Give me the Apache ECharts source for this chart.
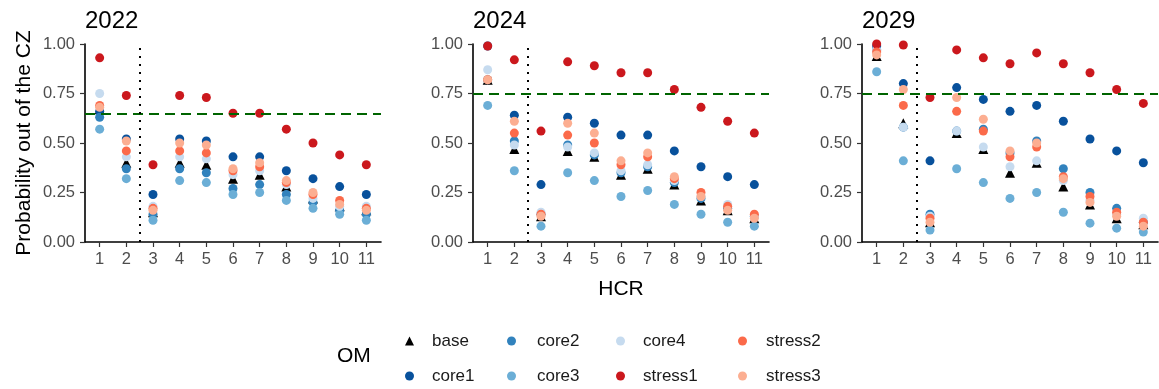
<!DOCTYPE html>
<html>
<head>
<meta charset="utf-8">
<script src="https://cdn.jsdelivr.net/npm/echarts@6/dist/echarts.min.js"></script>
<style>
  html, body { margin: 0; padding: 0; background: #fff; }
  #main { width: 1159px; height: 389px; }
</style>
</head>
<body>
<div id="main"></div>
<script>
// data
var hcr = [1, 2, 3, 4, 5, 6, 7, 8, 9, 10, 11];
var years = ["2022", "2024", "2029"];
var omNames = ["base", "core1", "core2", "core3", "core4", "stress1", "stress2", "stress3"];
var omColors = ["#000000", "#08519c", "#3182bd", "#6baed6", "#c6dbef", "#cb181d", "#fb6a4a", "#fcae91"];
var thresholds = [0.65, 0.75, 0.75];

var p2022 = {
  base:    [0.67, 0.40, 0.15, 0.40, 0.39, 0.32, 0.34, 0.28, 0.22, 0.18, 0.16],
  core1:   [0.66, 0.52, 0.24, 0.52, 0.51, 0.43, 0.43, 0.36, 0.32, 0.28, 0.24],
  core2:   [0.63, 0.37, 0.14, 0.37, 0.35, 0.27, 0.29, 0.24, 0.20, 0.16, 0.14],
  core3:   [0.57, 0.32, 0.11, 0.31, 0.30, 0.24, 0.25, 0.21, 0.17, 0.14, 0.11],
  core4:   [0.75, 0.43, 0.18, 0.43, 0.42, 0.34, 0.36, 0.29, 0.22, 0.18, 0.18],
  stress1: [0.93, 0.74, 0.39, 0.74, 0.73, 0.65, 0.65, 0.57, 0.50, 0.44, 0.39],
  stress2: [0.69, 0.46, 0.17, 0.46, 0.45, 0.36, 0.38, 0.30, 0.24, 0.21, 0.17],
  stress3: [0.68, 0.51, 0.16, 0.50, 0.49, 0.37, 0.40, 0.31, 0.25, 0.19, 0.16]
};
var p2024 = {
  base:    [0.82, 0.47, 0.13, 0.46, 0.43, 0.34, 0.37, 0.29, 0.21, 0.16, 0.12],
  core1:   [0.99, 0.64, 0.29, 0.63, 0.60, 0.54, 0.54, 0.46, 0.38, 0.33, 0.29],
  core2:   [0.82, 0.51, 0.14, 0.49, 0.44, 0.35, 0.38, 0.30, 0.22, 0.17, 0.13],
  core3:   [0.69, 0.36, 0.08, 0.35, 0.31, 0.23, 0.26, 0.19, 0.14, 0.10, 0.08],
  core4:   [0.87, 0.49, 0.15, 0.48, 0.45, 0.36, 0.39, 0.31, 0.23, 0.19, 0.13],
  stress1: [0.99, 0.92, 0.56, 0.91, 0.89, 0.855, 0.855, 0.77, 0.68, 0.61, 0.55],
  stress2: [0.82, 0.55, 0.14, 0.54, 0.50, 0.39, 0.43, 0.32, 0.25, 0.18, 0.14],
  stress3: [0.82, 0.61, 0.13, 0.60, 0.55, 0.41, 0.45, 0.33, 0.23, 0.16, 0.12]
};
var p2029 = {
  base:    [0.94, 0.60, 0.10, 0.55, 0.47, 0.35, 0.40, 0.28, 0.19, 0.12, 0.09],
  core1:   [0.99, 0.80, 0.41, 0.78, 0.72, 0.66, 0.69, 0.61, 0.52, 0.46, 0.40],
  core2:   [0.97, 0.58, 0.14, 0.56, 0.57, 0.45, 0.51, 0.37, 0.25, 0.17, 0.10],
  core3:   [0.86, 0.41, 0.06, 0.37, 0.30, 0.22, 0.25, 0.15, 0.095, 0.07, 0.05],
  core4:   [0.97, 0.58, 0.13, 0.56, 0.48, 0.38, 0.41, 0.31, 0.21, 0.14, 0.12],
  stress1: [1.00, 0.995, 0.73, 0.97, 0.93, 0.90, 0.955, 0.90, 0.855, 0.77, 0.70],
  stress2: [0.96, 0.69, 0.12, 0.66, 0.56, 0.43, 0.48, 0.33, 0.23, 0.15, 0.10],
  stress3: [0.945, 0.77, 0.10, 0.73, 0.62, 0.46, 0.50, 0.32, 0.20, 0.13, 0.08]
};
var panels = [p2022, p2024, p2029];

var myChart = echarts.init(document.getElementById("main"));
var font = "Liberation Sans, Arial, sans-serif";
var gridLefts = [85, 473, 862];

var grids = [], xAxes = [], yAxes = [], titles = [], series = [];
for (var g = 0; g < 3; g++) {
  grids.push({ left: gridLefts[g], top: 44, width: 296, height: 198 });
  titles.push({
    text: years[g], left: gridLefts[g], top: 9, padding: 0,
    textStyle: { fontFamily: font, fontSize: 24, fontWeight: "normal", color: "#000" }
  });
  xAxes.push({
    type: "value", gridIndex: g, min: 0.45, max: 11.55,
    name: g === 1 ? "HCR" : "", nameLocation: "middle", nameGap: 37,
    nameTextStyle: { fontFamily: font, fontSize: 21, color: "#000" },
    splitLine: { show: false },
    axisLine: { lineStyle: { color: "#000", width: 1.6 } },
    axisTick: { length: 5, lineStyle: { color: "#333", width: 1.2 }, customValues: hcr },
    axisLabel: { customValues: hcr, margin: 9, color: "#4d4d4d", fontSize: 16.5, fontFamily: font }
  });
  yAxes.push({
    type: "value", gridIndex: g, min: 0, max: 1, interval: 0.25,
    name: g === 0 ? "Probability out of the CZ" : "", nameLocation: "middle", nameGap: 50,
    nameTextStyle: { fontFamily: font, fontSize: 21, color: "#000" },
    splitLine: { show: false },
    axisLine: { show: true, lineStyle: { color: "#000", width: 1.6 } },
    axisTick: { show: true, length: 5, lineStyle: { color: "#333", width: 1.2 } },
    axisLabel: {
      margin: 10, color: "#4d4d4d", fontSize: 16.5, fontFamily: font,
      formatter: function (v) { return v.toFixed(2); }
    }
  });

  for (var s = 0; s < omNames.length; s++) {
    var vals = panels[g][omNames[s]];
    var pts = [];
    for (var i = 0; i < hcr.length; i++) pts.push([hcr[i], vals[i]]);
    var ser = {
      name: omNames[s],
      type: "scatter",
      xAxisIndex: g,
      yAxisIndex: g,
      data: pts,
      symbol: s === 0 ? "triangle" : "circle",
      symbolSize: s === 0 ? 10 : 9,
      itemStyle: { color: omColors[s], opacity: 1 },
      silent: true
    };
    if (s === 0) {
      ser.markLine = {
        silent: true,
        symbol: "none",
        label: { show: false },
        animation: false,
        data: [
          { yAxis: thresholds[g], lineStyle: { color: "#006400", width: 2, type: [10, 6] } },
          { xAxis: 2.5, lineStyle: { color: "#000", width: 2, type: [2, 6] } }
        ]
      };
    }
    series.push(ser);
  }
}

// one legend per key, laid out 4 columns x 2 rows (column-major like the reference)
var legendLefts = [400, 502, 611, 733];
var legendPads = [13, 16, 13, 14];
var legendTops = [326, 361];
var legends = [];
for (var k = 0; k < omNames.length; k++) {
  var col = Math.floor(k / 2);
  legends.push({
    data: [omNames[k]],
    left: legendLefts[col],
    top: legendTops[k % 2],
    itemWidth: 9,
    itemHeight: 9,
    selectedMode: false,
    textStyle: { fontFamily: font, fontSize: 17, color: "#1a1a1a", lineHeight: 20, padding: [0, 0, 0, legendPads[col]] }
  });
}

option = {
  backgroundColor: "#fff",
  animation: false,
  title: titles,
  grid: grids,
  xAxis: xAxes,
  yAxis: yAxes,
  legend: legends,
  graphic: [{
    type: "text", left: 337, top: 346,
    style: { text: "OM", fontFamily: font, fontSize: 21, fill: "#000" }
  }],
  series: series
};

myChart.setOption(option);
window.addEventListener("resize", function () {
  myChart.resize();
});
</script>
</body>
</html>
